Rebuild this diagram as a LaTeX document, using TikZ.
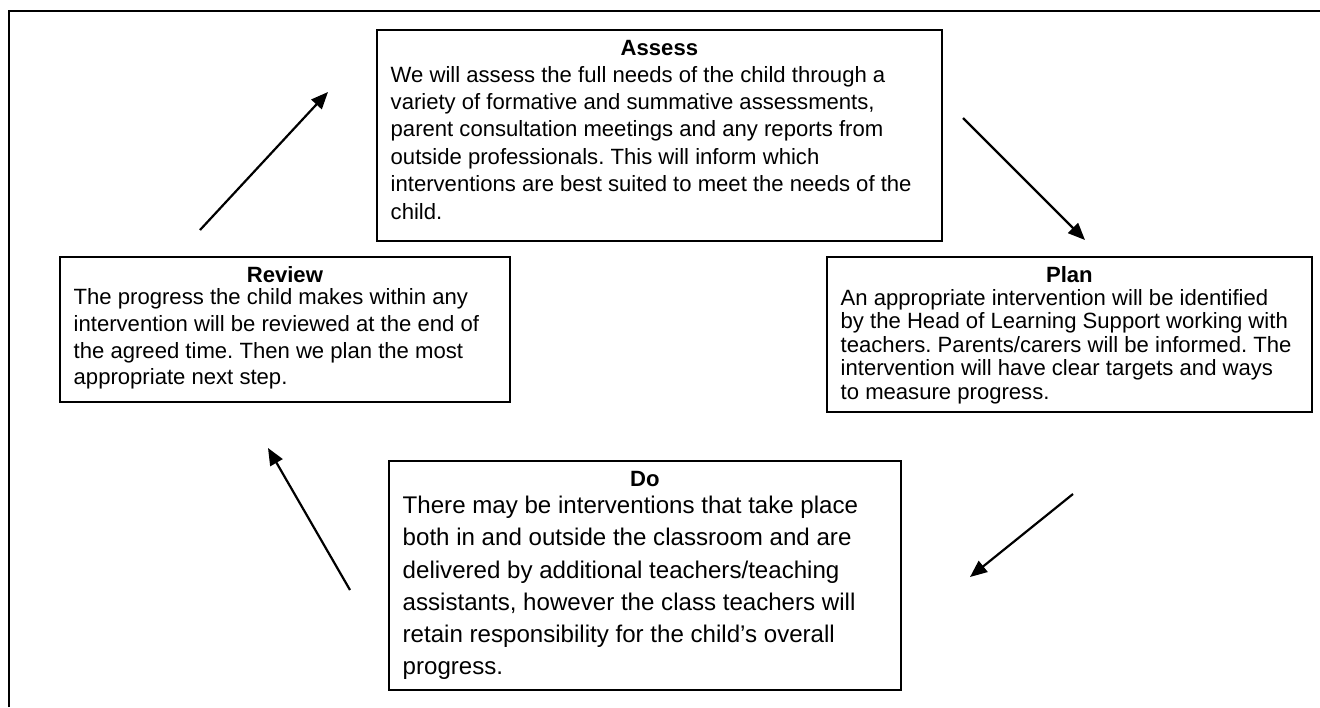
\documentclass[tikz,border=0pt]{standalone}
\usepackage{fontspec}
\setmainfont{Liberation Sans}
\usetikzlibrary{arrows.meta}
\frenchspacing
\begin{document}
\begin{tikzpicture}[x=1pt,y=-1pt,
  box/.style={draw, line width=1.8pt, anchor=north west, inner sep=0pt},
  boxtitle/.style={font=\fontsize{22.1}{27}\selectfont\bfseries, anchor=base, inner sep=0pt},
  boxbody/.style={font=\fontsize{22.1}{#1}\selectfont\frenchspacing, align=left, anchor=north west, inner sep=0pt},
  bigbody/.style={font=\fontsize{24.1}{32.2}\selectfont\frenchspacing, align=left, anchor=north west, inner sep=0pt},
  arr/.style={line width=2.2pt, -{Triangle[length=17pt,width=14pt]}}]
\useasboundingbox (0,0) rectangle (1320,707);
% outer frame (top and left edges visible)
\draw[line width=2.6pt] (9,707) -- (9,11) -- (1322,11);

% Assess
\node[box, minimum width=565pt, minimum height=211pt] (assess) at (376,29) {};
\node[boxtitle] (assesst) at ([yshift=-26pt]assess.north) {Assess};
\node[boxbody=27.4] (assessb) at ([xshift=14.5pt,yshift=-33.8pt]assess.north west)
 {\strut We will assess the full needs of the child through a\\
  variety of formative and summative assessments,\\
  parent consultation meetings and any reports from\\
  outside professionals. This will inform which\\
  interventions are best suited to meet the needs of the\\
  child.};

% Review
\node[box, minimum width=450pt, minimum height=145pt] (review) at (59,256) {};
\node[boxtitle] (reviewt) at ([yshift=-26pt]review.north) {Review};
\node[boxbody=26.7] (reviewb) at ([xshift=14.5pt,yshift=-29.8pt]review.north west)
 {\strut The progress the child makes within any\\
  intervention will be reviewed at the end of\\
  the agreed time. Then we plan the most\\
  appropriate next step.};

% Plan
\node[box, minimum width=485pt, minimum height=155pt] (plan) at (826,256) {};
\node[boxtitle] (plant) at ([yshift=-26pt]plan.north) {Plan};
\node[boxbody=23.5] (planb) at ([xshift=14.5pt,yshift=-32.5pt]plan.north west)
 {\strut An appropriate intervention will be identified\\
  by the Head of Learning Support working with\\
  teachers. Parents/carers will be informed. The\\
  intervention will have clear targets and ways\\
  to measure progress.};

% Do
\node[box, minimum width=512pt, minimum height=229pt] (do) at (388,460) {};
\node[boxtitle] (dot) at ([yshift=-26pt]do.north) {Do};
\node[bigbody] (dob) at ([xshift=14.5pt,yshift=-31pt]do.north west)
 {\strut There may be interventions that take place\\
  both in and outside the classroom and are\\
  delivered by additional teachers/teaching\\
  assistants, however the class teachers will\\
  retain responsibility for the child’s overall\\
  progress.};

% arrows
\coordinate (r2a1) at (200,230);  \coordinate (r2a2) at (328,92);
\coordinate (a2p1) at (963,118);  \coordinate (a2p2) at (1085,240);
\coordinate (p2d1) at (1073,494); \coordinate (p2d2) at (970,577);
\coordinate (d2r1) at (350,590);  \coordinate (d2r2) at (268,448);
\draw[arr] (r2a1) -- (r2a2);
\draw[arr] (a2p1) -- (a2p2);
\draw[arr] (p2d1) -- (p2d2);
\draw[arr] (d2r1) -- (d2r2);
\end{tikzpicture}
\end{document}
